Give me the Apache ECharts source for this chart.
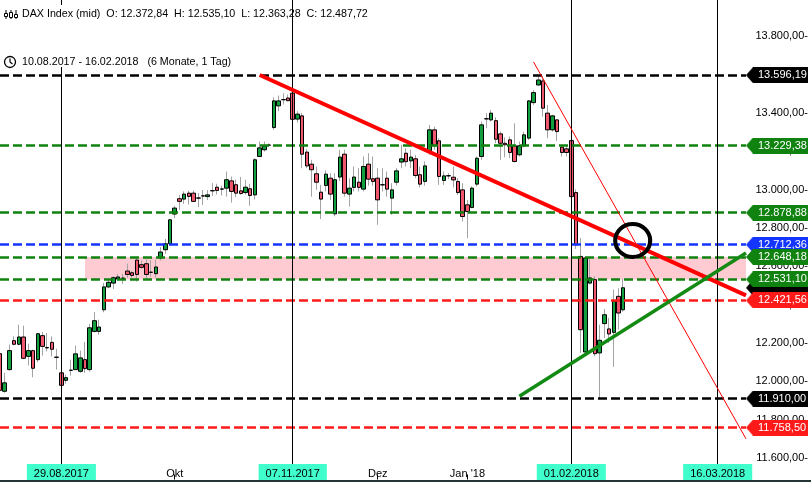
<!DOCTYPE html>
<html><head><meta charset="utf-8">
<script src="https://cdn.jsdelivr.net/npm/echarts@6/dist/echarts.min.js"></script>
<style>html,body{margin:0;padding:0;background:#fff}#c{width:811px;height:482px}</style>
</head><body><div id="c"></div>
<script>
const FONT = '"Liberation Sans", Arial, sans-serif';

// ---- calendar (trading days) ----
const categoryCount = 159;
const holidays = ['03.10.2017', '25.12.2017', '26.12.2017', '01.01.2018'];

// ---- candle values (index 0 = 10.08.2017) ----
const opens = [12144,11948,12061,12212,12193,12231,12130,12160,12113,12238,12176,12203,12126,12044,12005,12058,12061,12052,12113,12061,
12260,12260,12373,12492,12512,12533,12538,12575,12566,12632,12608,12613,12569,12561,12643,12686,12717,12872,12952,12950,
12981,12981,12956,12967,12963,12994,13012,13003,13007,13045,13025,12993,12984,13004,12972,13172,13207,13232,13323,13436,
13468,13477,13502,13367,13384,13195,13132,13082,12986,13021,13059,12873,13065,13184,12976,13011,13038,13002,13132,13056,
13059,13025,13059,12955,13038,13143,13189,13149,13160,13077,13042,13203,13311,13254,13047,13072,13064,13042,12998,12920,
12906,13028,13172,13369,13363,13359,13290,13241,13259,13228,13181,13228,13268,13453,13545,13566,13398,13311,13363,13221,
13212,13255,12984,12651,12153,12512,12530,12148,12301,12273,12255,12443,12372.84];
const highs = [12156,12044,12191,12234,12295,12290,12196,12165,12252,12257,12252,12234,12169,12050,12035,12113,12186,12160,12205,12299,
12361,12321,12513,12533,12548,12560,12560,12613,12575,12640,12630,12635,12632,12635,12700,12742,12845,12915,12972,12990,
12993,12995,12981,12997,12997,13033,13030,13020,13094,13068,13051,13065,13051,13030,13163,13250,13250,13240,13480,13490,
13502,13495,13525,13408,13399,13210,13155,13120,13024,13100,13085,13085,13207,13207,13059,13120,13111,13172,13189,13172,
13111,13111,13094,13033,13111,13233,13215,13207,13181,13120,13146,13337,13328,13268,13094,13085,13120,13059,13033,12946,
13016,13172,13354,13398,13415,13376,13302,13272,13276,13345,13250,13302,13467,13519,13596.19,13592,13441,13389,13367,13233,
13233,13265,13000,12747,12650,12648,12547,12295,12377,12330,12478,12485,12535.10];
const lows = [11945,11940,12055,12188,12188,12115,12082,12021,12100,12134,12156,12130,12061,11970,11988,12030,12061,12044,12044,12050,
12255,12243,12360,12485,12481,12525,12508,12540,12540,12520,12585,12535,12545,12540,12630,12665,12715,12851,12894,12925,
12922,12935,12908,12919,12945,12966,12974,12969,12963,12932,12960,12972,12972,12915,12948,13172,13198,13225,13311,13408,
13443,13460,13350,13350,13111,13111,12963,12998,12846,12990,12946,12860,13044,12963,12911,12990,12990,12990,13020,13020,
12816,12990,12963,12868,13020,13111,13120,13111,13059,13011,13020,13181,13207,13024,13024,13054,13011,12972,12833,12746,
12902,13016,13155,13319,13354,13241,13155,13168,13163,13141,13172,13220,13259,13441,13540,13380,13268,13302,13254,13172,
13172,12950,12690,12148,12140,12505,12130,11905,12226,12200,12075,12270,12363.28];
const closes = [11953,11992,12160,12193,12231,12120,12160,12068,12248,12182,12174,12167,12125,11979,12019,12057,12143,12122,12066,12279,
12316,12283,12492,12516,12540,12544,12537,12557,12552,12557,12594,12557,12568,12596,12674,12717,12842,12903,12938,12976,
12964,12938,12955,12966,12972,12993,12995,13002,13051,12990,12981,12979,13012,12969,13155,13217,13228,13231,13462,13462,
13469,13463,13366,13393,13184,13123,13103,13038,12950,13080,12976,13051,13169,12981,13007,13065,13011,13120,13054,13042,
12946,13024,13002,12998,13097,13160,13145,13169,13073,13028,13123,13311,13228,13068,13071,13071,13050,12984,12859,12885,
13007,13163,13337,13368,13398,13262,13241,13233,13193,13146,13228,13285,13462,13505,13571,13424,13311,13384,13302,13193,
13193,12963,12712,12269,12643,12539,12144,12214,12347,12247,12417,12356,12487.72];

// ---- horizontal levels ----
const levelValues = [13596.19, 13229.38, 12878.88, 12712.36, 12648.18, 12531.10, 12421.56, 11910.00, 11758.50];
const lastPrice = 12487.72;
const zoneRange = [12531.10, 12648.18];
const zoneStartDate = '05.09.2017';

// ---- axis marks ----
const markedDates = ['29.08.2017', '07.11.2017', '01.02.2018', '16.03.2018'];
const monthDates = ['02.10.2017', '01.12.2017', '02.01.2018'];
const monthNames = ['Okt', 'Dez', "Jan '18"];
const yTickValues = [11600, 11800, 12000, 12200, 12400, 12600, 12800, 13000, 13200, 13400, 13600, 13800];

// ---- drawn trend lines: [category index, price] ----
const resistanceLine = [[55, 13597], [158, 12448]];
const steepLine = [[113, 13665], [158, 11700]];
const supportLine = [[110, 11922], [158, 12669]];
const circlePoint = [134, 12734];

// ---- styles ----
const C_GREEN = '#0f820f', C_BLUE = '#1434ff', C_RED = '#ff1a1a', C_BLACK = '#000000';
const levelColors = [C_BLACK, C_GREEN, C_GREEN, C_BLUE, C_GREEN, C_GREEN, C_RED, C_BLACK, C_RED];

// build calendar
function pad(n) { return n < 10 ? '0' + n : '' + n; }
const dates = [];
(function () {
  const d = new Date(2017, 7, 10);
  while (dates.length < categoryCount) {
    const w = d.getDay();
    const s = pad(d.getDate()) + '.' + pad(d.getMonth() + 1) + '.' + d.getFullYear();
    if (w !== 0 && w !== 6 && holidays.indexOf(s) < 0) dates.push(s);
    d.setDate(d.getDate() + 1);
  }
})();

function fmtDE(v) {
  const s = Number(v).toFixed(2);
  let parts = s.split('.');
  const i = parts[0].replace(/\B(?=(\d{3})+(?!\d))/g, '.');
  return i + ',' + parts[1];
}

function tagImage(color) {
  const c = document.createElement('canvas');
  c.width = 62; c.height = 16;
  const g = c.getContext('2d');
  g.fillStyle = color;
  g.beginPath();
  g.moveTo(0, 8); g.lineTo(7, 0); g.lineTo(62, 0); g.lineTo(62, 16); g.lineTo(7, 16);
  g.closePath(); g.fill();
  return c;
}
function tagLabel(value, color) {
  return {
    show: true, position: 'end', distance: 0, formatter: fmtDE(value),
    color: '#fff', fontSize: 11, fontFamily: FONT,
    backgroundColor: { image: tagImage(color) },
    padding: [2, 0, 2, 12], width: 50, height: 12, lineHeight: 12, align: 'left'
  };
}

const wickData = opens.map((o, i) => [o, closes[i], lows[i], highs[i]]);
const bodyData = opens.map((o, i) => [o, closes[i], Math.min(o, closes[i]), Math.max(o, closes[i])]);

const levelLines = [{
  yAxis: lastPrice, lineStyle: { opacity: 0 }, label: tagLabel(lastPrice, C_BLACK)
}].concat(levelValues.map((v, i) => ({
  yAxis: v,
  lineStyle: { color: levelColors[i], width: 2.5, type: [9, 4] },
  label: tagLabel(v, levelColors[i])
})));

function seg(line, color, width) {
  return [
    { coord: [dates[line[0][0]], line[0][1]], lineStyle: { color: color, width: width, type: 'solid' } },
    { coord: [dates[line[1][0]], line[1][1]] }
  ];
}

const last = opens.length - 1;
const headerText = 'DAX Index (mid)  O: ' + fmtDE(opens[last]) + '  H: ' + fmtDE(highs[last]) +
  '  L: ' + fmtDE(lows[last]) + '  C: ' + fmtDE(closes[last]);
const rangeText = dates[0] + ' - ' + dates[last] + '   (6 Monate, 1 Tag)';

const chart = echarts.init(document.getElementById('c'), null, { renderer: 'canvas' });
chart.setOption({
  animation: false,
  backgroundColor: '#ffffff',
  grid: { left: 0, right: 62, top: 0, bottom: 2 },
  xAxis: {
    type: 'category', data: dates, boundaryGap: false, z: 10,
    axisLine: { show: false },
    splitLine: { show: false },
    axisTick: {
      show: true, inside: true, length: 5,
      interval: (i, v) => monthDates.indexOf(v) >= 0,
      lineStyle: { color: '#000', width: 1 }
    },
    axisLabel: {
      inside: true, margin: 0,
      interval: (i, v) => markedDates.indexOf(v) >= 0 || monthDates.indexOf(v) >= 0,
      formatter: v => markedDates.indexOf(v) >= 0 ? '{box|' + v + '}' : '{mon|' + monthNames[monthDates.indexOf(v)] + '}',
      rich: {
        box: { backgroundColor: '#40ffcc', color: '#000', fontSize: 11, fontFamily: FONT, padding: [4, 7, 3, 7], lineHeight: 13 },
        mon: { color: '#000', fontSize: 11, fontFamily: FONT, padding: [4, 7, 3, 7], lineHeight: 13 }
      }
    }
  },
  yAxis: {
    type: 'value', position: 'right', min: 11488, max: 13988, scale: true,
    splitLine: { show: false }, axisLine: { show: false }, axisTick: { show: false },
    axisLabel: {
      customValues: yTickValues,
      formatter: v => fmtDE(v) + '-',
      align: 'right', margin: 62, color: '#000', fontSize: 11, fontFamily: FONT
    }
  },
  series: [
    {
      type: 'candlestick', data: wickData, barWidth: 1, z: 2, silent: true,
      itemStyle: { color: '#a3a3a3', color0: '#a3a3a3', borderColor: '#a3a3a3', borderColor0: '#a3a3a3', borderColorDoji: '#a3a3a3', borderWidth: 1 }
    },
    {
      type: 'candlestick', data: bodyData, barWidth: 4, z: 3, silent: true,
      itemStyle: { color: '#12a03e', color0: '#f0566c', borderColor: '#000', borderColor0: '#000', borderColorDoji: '#000', borderWidth: 1 },
      markLine: { silent: true, symbol: 'none', animation: false, data: levelLines }
    },
    {
      type: 'line', data: [], z: 4, silent: true,
      markArea: {
        silent: true,
        itemStyle: { color: 'rgba(255,140,155,0.45)' },
        data: [[{ xAxis: zoneStartDate, yAxis: zoneRange[1] }, { xAxis: dates[categoryCount - 1], yAxis: zoneRange[0] }]]
      }
    },
    {
      type: 'line', data: [], z: 5, silent: true,
      markLine: {
        silent: true, symbol: 'none', animation: false,
        label: { show: false },
        data: markedDates.map(d => ({ xAxis: d, lineStyle: { color: '#000', width: 1, type: 'solid' } })).concat([
          seg(resistanceLine, '#ff0000', 4),
          seg(steepLine, '#ff0000', 1),
          seg(supportLine, '#138a13', 3.5)
        ])
      },
      markPoint: {
        silent: true, animation: false,
        data: [{
          coord: [dates[circlePoint[0]], circlePoint[1]], symbol: 'circle', symbolSize: [35, 33],
          itemStyle: { color: 'rgba(0,0,0,0)', borderColor: '#000', borderWidth: 4 },
          label: { show: false }
        }]
      }
    }
  ],
  graphic: [
    { type: 'rect', z: 100, shape: { x: 0, y: 5, width: 240, height: 62 }, style: { fill: '#fff' } },
    { type: 'text', z: 101, x: 22, y: 14, style: { text: headerText, fill: '#000', font: '10.7px ' + FONT, verticalAlign: 'middle' } },
    { type: 'text', z: 101, x: 22, y: 62, style: { text: rangeText, fill: '#000', font: '10.7px ' + FONT, verticalAlign: 'middle' } },
    // chart icon
    { type: 'line', z: 101, shape: { x1: 6, y1: 10, x2: 6, y2: 19 }, style: { stroke: '#000', lineWidth: 1 } },
    { type: 'line', z: 101, shape: { x1: 11, y1: 10, x2: 11, y2: 19 }, style: { stroke: '#000', lineWidth: 1 } },
    { type: 'line', z: 101, shape: { x1: 16, y1: 10, x2: 16, y2: 19 }, style: { stroke: '#000', lineWidth: 1 } },
    { type: 'rect', z: 102, shape: { x: 4.5, y: 13.5, width: 3, height: 3 }, style: { fill: '#fff', stroke: '#000', lineWidth: 1 } },
    { type: 'rect', z: 102, shape: { x: 9.5, y: 12.5, width: 3, height: 5 }, style: { fill: '#fff', stroke: '#000', lineWidth: 1 } },
    { type: 'rect', z: 102, shape: { x: 14.5, y: 14.5, width: 3, height: 3 }, style: { fill: '#fff', stroke: '#000', lineWidth: 1 } },
    // clock icon
    { type: 'circle', z: 101, shape: { cx: 10, cy: 62, r: 5.5 }, style: { fill: 'none', stroke: '#000', lineWidth: 1.3 } },
    { type: 'polyline', z: 101, shape: { points: [[10, 58.5], [10, 62], [12.5, 64]] }, style: { fill: 'none', stroke: '#000', lineWidth: 1.2 } },
    // bottom bar
    { type: 'rect', z: 100, shape: { x: 0, y: 480, width: 811, height: 2 }, style: { fill: '#253535' } }
  ]
});
</script>
</body></html>
